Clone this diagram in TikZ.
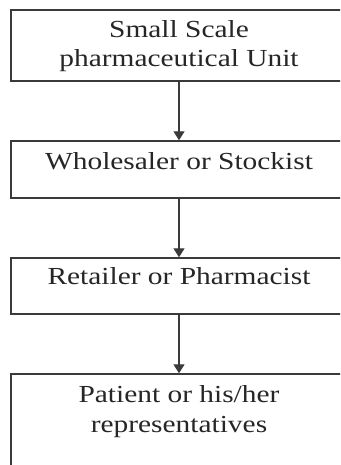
\documentclass[tikz,border=0pt]{standalone}
\usepackage{fontspec}
\setmainfont{Liberation Serif}[FakeStretch=1.2]
\usetikzlibrary{arrows.meta}
\definecolor{linec}{HTML}{3A3A3A}
\definecolor{textc}{HTML}{262626}
\begin{document}
\begin{tikzpicture}[x=1pt,y=1pt,
  boxst/.style={draw=linec,line width=1.4pt,rectangle,inner sep=0pt,minimum width=336pt},
  lbl/.style={anchor=base,text=textc,inner sep=0pt,font=\fontsize{24.5}{29}\selectfont},
  flow/.style={draw=linec,line width=1.3pt,-{Triangle[width=11pt,length=9pt]}}]
\useasboundingbox (0,0) rectangle (340,465);
\fill[white] (0,0) rectangle (340,465);
\begin{scope}
\clip (0,0) rectangle (340,465);
\node[boxst,minimum height=71pt] (b1) at (179,419.5) {};
\node[boxst,minimum height=57pt] (b2) at (179,295.5) {};
\node[boxst,minimum height=56pt] (b3) at (179,179) {};
\node[boxst,minimum height=110pt] (b4) at (179,36) {};
\end{scope}
\node[lbl] (t1) at (179,427) {Small Scale};
\node[lbl] (t2) at (179,398) {pharmaceutical Unit};
\node[lbl] (t3) at (179,295) {Wholesaler or Stockist};
\node[lbl] (t4) at (179,180.5) {Retailer or Pharmacist};
\node[lbl] (t5) at (179,62.5) {Patient or his/her};
\node[lbl] (t6) at (179,32.5) {representatives};
\draw[flow] (b1.south) -- (b2.north);
\draw[flow] (b2.south) -- (b3.north);
\draw[flow] (b3.south) -- (b4.north);
\end{tikzpicture}
\end{document}
